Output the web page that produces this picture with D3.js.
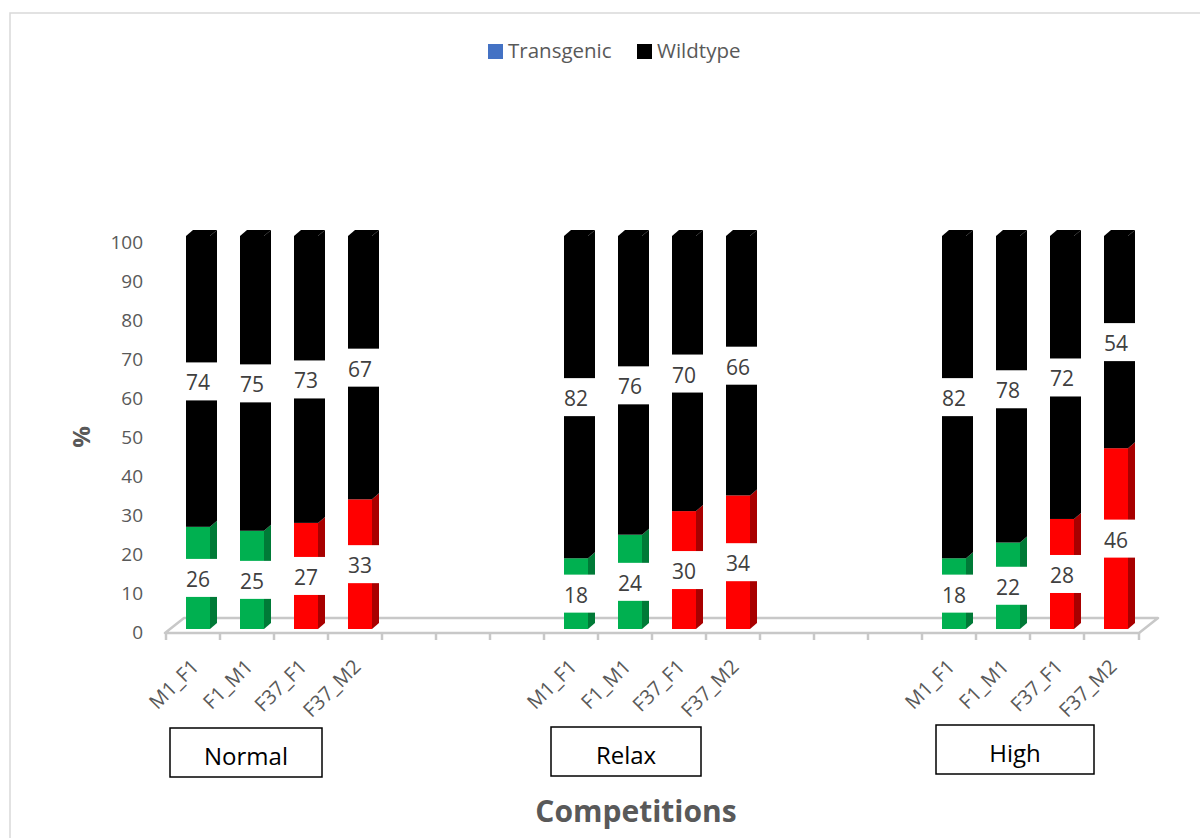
<!DOCTYPE html>
<html>
<head>
<meta charset="utf-8">
<script src="https://cdn.jsdelivr.net/npm/d3@7"></script>
<style>
  body { margin: 0; background: #fff; }
  text { font-family: "Open Sans", sans-serif; }
</style>
</head>
<body>
<div id="main"></div>
<script>
// values
const groups = ["Normal", "Relax", "High"];
const combos = ["M1_F1", "F1_M1", "F37_F1", "F37_M2"];
const transgenic = [[26, 25, 27, 33], [18, 24, 30, 34], [18, 22, 28, 46]];
const wildtype = [[74, 75, 73, 67], [82, 76, 70, 66], [82, 78, 72, 54]];
const seriesNames = ["Transgenic", "Wildtype"];
const yTicks = [0, 10, 20, 30, 40, 50, 60, 70, 80, 90, 100];
const gapSlots = 3;

const W = 1200, H = 838;
const front = {fill: {green: "#00b050", red: "#ff0000", black: "#000000"},
               side: {green: "#007a37", red: "#a80000", black: "#000000"}};
const comboColor = {M1_F1: "green", F1_M1: "green", F37_F1: "red", F37_M2: "red"};
// the group text boxes were placed by hand in the original, small nudges
const boxNudge = {Normal: {dx: -2, dy: 1, w: 152}, Relax: {dx: 0, dy: 0, w: 150}, High: {dx: 11, dy: -2, w: 158}};

// build slot list (blank categories between groups like the excel sheet)
let slots = [];
let rows = [];
groups.forEach((g, gi) => {
  combos.forEach((c, ci) => {
    const key = g + "|" + c;
    slots.push(key);
    rows.push({key, group: g, combo: c, t: transgenic[gi][ci], w: wildtype[gi][ci]});
  });
  if (gi < groups.length - 1) {
    for (let k = 0; k < gapSlots; k++) slots.push("gap" + gi + "_" + k);
  }
});

const svg = d3.select("#main").append("svg")
  .attr("width", W).attr("height", H);

// chart area border
svg.append("rect")
  .attr("x", 10).attr("y", 13).attr("width", W).attr("height", H)
  .attr("fill", "none").attr("stroke", "#d9d9d9").attr("stroke-width", 1.5);

const x = d3.scaleBand().domain(slots).range([165, 1137]).padding(0);
const y = d3.scaleLinear().domain([0, 100]).range([629, 236]);
const yAxisScale = d3.scaleLinear().domain([0, 100]).range([632, 242.5]);

const depth = {dx: 7, dy: -6};
const floorDepth = {dx: 19, dy: -15};
const barOff = 21, barW = 24;

// floor
const fl = x.range()[0], fr = x.range()[1] + 2, fy = 633;
svg.append("path")
  .attr("d", `M${fl},${fy} L${fr},${fy} L${fr + floorDepth.dx},${fy + floorDepth.dy} L${fl + floorDepth.dx},${fy + floorDepth.dy} Z`)
  .attr("fill", "#fff").attr("stroke", "#c8c8c8").attr("stroke-width", 2.5)
  .attr("stroke-linejoin", "round");

svg.append("g").selectAll("line")
  .data(slots.concat(["end"]))
  .join("line")
  .attr("x1", d => d === "end" ? fr : x(d) + 1)
  .attr("x2", d => d === "end" ? fr : x(d) + 1)
  .attr("y1", fy).attr("y2", fy + 7)
  .attr("stroke", "#c8c8c8").attr("stroke-width", 2.5);

// y axis labels
const yAxis = svg.append("g")
  .attr("transform", "translate(143,0)")
  .call(d3.axisLeft(yAxisScale).tickValues(yTicks).tickSize(0).tickPadding(0));
yAxis.select(".domain").remove();
yAxis.selectAll("text")
  .attr("font-size", 19).attr("fill", "#595959")
  .style("font-family", "'Open Sans', sans-serif");

svg.append("text")
  .attr("transform", "translate(90,437) rotate(-90)")
  .attr("text-anchor", "middle")
  .attr("font-size", 24).attr("font-weight", "bold").attr("fill", "#595959")
  .text("%");

// stacked segments
let segs = [];
rows.forEach(r => {
  segs.push({key: r.key, y0: 0, y1: r.t, v: r.t, color: comboColor[r.combo], top: false});
  segs.push({key: r.key, y0: r.t, y1: r.t + r.w, v: r.w, color: "black", top: true});
});

function sidePath(d) {
  const x0 = x(d.key) + barOff + barW;
  const yb = y(d.y0), yt = y(d.y1);
  return `M${x0},${yb} L${x0 + depth.dx},${yb + depth.dy} L${x0 + depth.dx},${yt + depth.dy} L${x0},${yt} Z`;
}
function topPath(d) {
  const x0 = x(d.key) + barOff, yt = y(d.y1);
  return `M${x0},${yt} L${x0 + barW},${yt} L${x0 + barW + depth.dx},${yt + depth.dy} L${x0 + depth.dx},${yt + depth.dy} Z`;
}

const bars = svg.append("g");
bars.selectAll("path.side")
  .data(segs).join("path").attr("class", "side")
  .attr("d", sidePath)
  .attr("fill", d => front.side[d.color]);
bars.selectAll("rect.front")
  .data(segs).join("rect").attr("class", "front")
  .attr("x", d => x(d.key) + barOff)
  .attr("y", d => y(d.y1))
  .attr("width", barW)
  .attr("height", d => y(d.y0) - y(d.y1))
  .attr("fill", d => front.fill[d.color]);
bars.selectAll("path.top")
  .data(segs.filter(d => d.top)).join("path").attr("class", "top")
  .attr("d", topPath)
  .attr("fill", d => front.fill[d.color]);

// data labels with white boxes
const labels = svg.append("g");
labels.selectAll("rect")
  .data(segs).join("rect")
  .attr("x", d => x(d.key) + barOff - 2)
  .attr("y", d => (y(d.y0) + y(d.y1)) / 2 - 19)
  .attr("width", 37).attr("height", 38)
  .attr("fill", "#fff");
labels.selectAll("text")
  .data(segs).join("text")
  .attr("x", d => x(d.key) + barOff + barW / 2)
  .attr("y", d => (y(d.y0) + y(d.y1)) / 2 + 1)
  .attr("text-anchor", "middle").attr("dominant-baseline", "central")
  .attr("font-size", 21).attr("fill", "#404040")
  .text(d => d.v);

// category labels
svg.append("g").selectAll("text")
  .data(rows).join("text")
  .attr("transform", d => `translate(${x(d.key) + x.bandwidth() / 2 + 8},668) rotate(-45)`)
  .attr("text-anchor", "end")
  .attr("font-size", 20).attr("fill", "#595959")
  .text(d => d.combo);

// group boxes
const gBox = svg.append("g").selectAll("g")
  .data(groups).join("g")
  .attr("transform", d => `translate(${x(d + "|" + combos[0]) + barOff + barW / 2 + 50 + boxNudge[d].dx},${752 + boxNudge[d].dy})`);
gBox.append("rect")
  .attr("x", d => -boxNudge[d].w / 2).attr("y", -25)
  .attr("width", d => boxNudge[d].w).attr("height", 49)
  .attr("fill", "#fff").attr("stroke", "#000").attr("stroke-width", 1.5);
gBox.append("text")
  .attr("y", 4).attr("dy", "0.35em")
  .attr("text-anchor", "middle").attr("font-size", 24).attr("fill", "#000")
  .text(d => d);

// axis title
svg.append("text")
  .attr("x", 636).attr("y", 822)
  .attr("text-anchor", "middle")
  .attr("font-size", 30).attr("font-weight", "bold").attr("fill", "#595959")
  .text("Competitions");

// legend
const legendColor = {Transgenic: "#4472c4", Wildtype: "#000000"};
const legendX = {Transgenic: 488, Wildtype: 637};
const lg = svg.append("g").selectAll("g")
  .data(seriesNames).join("g")
  .attr("transform", d => `translate(${legendX[d]},44)`);
lg.append("rect").attr("width", 15).attr("height", 15)
  .attr("fill", d => legendColor[d]);
lg.append("text")
  .attr("x", 20).attr("y", 14)
  .attr("font-size", 20.5).attr("fill", "#595959")
  .text(d => d);
</script>
</body>
</html>
